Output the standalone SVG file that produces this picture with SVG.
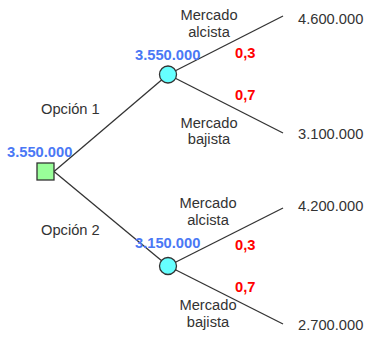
<svg xmlns="http://www.w3.org/2000/svg" width="368" height="338" viewBox="0 0 368 338">
<style>
text{font-family:"Liberation Sans",Arial,sans-serif;font-size:14.7px;fill:#333}
.c{text-anchor:middle}
.v{fill:#4a78f5;font-weight:bold}
.p{fill:#ff0000;font-weight:bold}
.e{stroke:#333;stroke-width:1.3;fill:none}
.chance{fill:#66ffff;stroke:#333;stroke-width:1.3}
.dec{fill:#99ff99;stroke:#333;stroke-width:1.3}
</style>
<rect width="368" height="338" fill="#fff"/>
<g id="connectors">
<line class="e" x1="54" y1="171.5" x2="168" y2="74.5"/>
<line class="e" x1="54" y1="171.5" x2="168" y2="266"/>
<line class="e" x1="168" y1="74.5" x2="283" y2="16"/>
<line class="e" x1="168" y1="74.5" x2="283" y2="133"/>
<line class="e" x1="168" y1="266" x2="283" y2="208"/>
<line class="e" x1="168" y1="266" x2="283" y2="324"/>
</g>
<g id="labels">
<text x="41" y="114">Opción 1</text>
<text x="41" y="235">Opción 2</text>
<text class="c" x="209" y="20">Mercado</text>
<text class="c" x="209" y="37">alcista</text>
<text class="p" x="235" y="58">0,3</text>
<text class="p" x="235" y="100">0,7</text>
<text class="c" x="209" y="128">Mercado</text>
<text class="c" x="209" y="144">bajista</text>
<text class="c" x="208" y="208">Mercado</text>
<text class="c" x="208" y="225">alcista</text>
<text class="p" x="235" y="250">0,3</text>
<text class="p" x="235" y="292">0,7</text>
<text class="c" x="208" y="310">Mercado</text>
<text class="c" x="208" y="327">bajista</text>
</g>
<g id="decision">
<rect class="dec" x="37" y="163" width="17" height="17"/>
<text class="v" x="7" y="157">3.550.000</text>
</g>
<g id="chance1">
<circle class="chance" cx="168" cy="74.5" r="8.5"/>
<text class="v" x="135" y="60">3.550.000</text>
</g>
<g id="chance2">
<circle class="chance" cx="168" cy="266" r="8.5"/>
<text class="v" x="135" y="248">3.150.000</text>
</g>
<g id="outcome1"><text x="298" y="24">4.600.000</text></g>
<g id="outcome2"><text x="298" y="139">3.100.000</text></g>
<g id="outcome3"><text x="298" y="211">4.200.000</text></g>
<g id="outcome4"><text x="298" y="330">2.700.000</text></g>
</svg>
